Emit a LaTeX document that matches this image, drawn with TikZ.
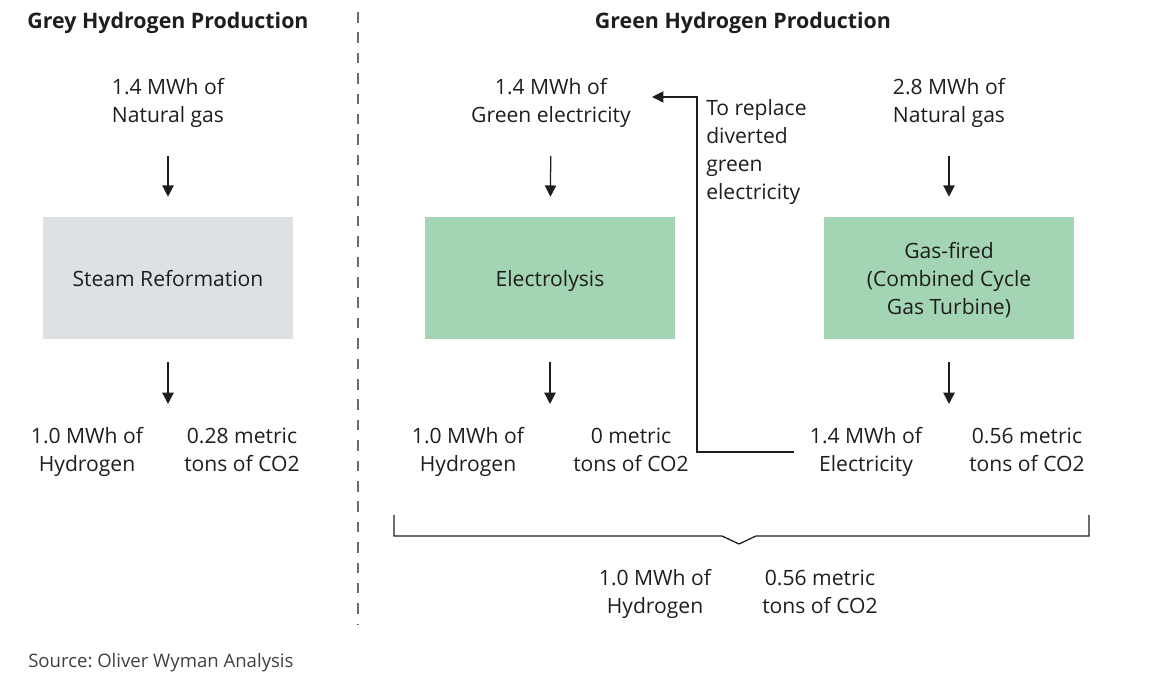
\documentclass[tikz,border=0pt]{standalone}
\usepackage{fontspec}
\setmainfont{Open Sans}
\usepackage{xcolor}
\usetikzlibrary{arrows.meta,positioning,calc}

\definecolor{inkgrey}{HTML}{1E1E1E}
\definecolor{greybox}{HTML}{DDE1E4}
\definecolor{greenbox}{HTML}{A3D4B3}
\definecolor{divider}{HTML}{6A6A6A}

\begin{document}
\begin{tikzpicture}[
    x=0.025cm, y=-0.025cm,
    every node/.style={text=inkgrey, font=\fontsize{15pt}{19.9pt}\selectfont, inner sep=0pt, align=center, text depth=5pt},
    title/.style={font=\fontsize{15.2pt}{19.9pt}\selectfont\bfseries},
    box/.style={rectangle, minimum width=6.25cm, minimum height=3.05cm, text depth=0pt},
    flow/.style={draw=inkgrey, line width=0.9pt, -{Triangle[length=8pt,width=8pt]}},
    intoBox/.style={flow, shorten <=18.5pt, shorten >=14.2pt},
    outOfBox/.style={flow, shorten <=16.4pt}
]
    \useasboundingbox (0,0) rectangle (1152,688);

    \node[title] (greytitle) at (168,24) {Grey Hydrogen Production};
    \node[title] (greentitle) at (743,24) {Green Hydrogen Production};
    \draw[divider, line width=0.8pt, dash pattern=on 7.5pt off 7pt] (358,12) -- (358,625);

    % grey route
    \node (greyin) at (168,104) {1.4 MWh of\\Natural gas};
    \node[box, fill=greybox] (steam) at (168,278) {Steam Reformation};
    \node (greyh2) at (87,453) {1.0 MWh of\\Hydrogen};
    \node (greyco2) at (242,453) {0.28 metric\\tons of CO2};
    \coordinate (steamout) at (168,404);
    \draw[intoBox] (greyin) -- (steam);
    \draw[outOfBox] (steam) -- (steamout);

    % green route
    \node (greenin) at (551,104) {1.4 MWh of\\Green electricity};
    \node[box, fill=greenbox] (lysis) at (550,278) {Electrolysis};
    \node (greenh2) at (468,453) {1.0 MWh of\\Hydrogen};
    \node (greenco2) at (631,453) {0 metric\\tons of CO2};
    \coordinate (lysisout) at (550,404);
    \draw[intoBox] (greenin) -- (lysis);
    \draw[outOfBox] (lysis) -- (lysisout);

    \node (gasin) at (949,104) {2.8 MWh of\\Natural gas};
    \node[box, fill=greenbox] (ccgt) at (949,278) {Gas-fired\\(Combined Cycle\\Gas Turbine)};
    \node (gaselec) at (866,453) {1.4 MWh of\\Electricity};
    \node (gasco2) at (1027,453) {0.56 metric\\tons of CO2};
    \coordinate (ccgtout) at (949,404);
    \draw[intoBox] (gasin) -- (ccgt);
    \draw[outOfBox] (ccgt) -- (ccgtout);

    \node[anchor=north west, align=left] (replace) at (706,99) {To replace\\diverted\\green\\electricity};
    \coordinate (detour) at (697,452);
    \draw[flow, shorten <=11.5pt, shorten >=15pt] (gaselec.west |- detour) -| (detour) |- ([yshift=5pt]greenin.east);

    % combined result
    \coordinate (braceL) at (394,515);
    \coordinate (braceR) at (1089,515);
    \draw[inkgrey, line width=0.9pt] (braceL) -- (394,536) -- (722,536) -- (739,544) -- (756,536) -- (1089,536) -- (braceR);
    \node (totalh2) at (655,595) {1.0 MWh of\\Hydrogen};
    \node (totalco2) at (820,595) {0.56 metric\\tons of CO2};

    \node[anchor=west, font=\fontsize{13.2pt}{15pt}\selectfont, text=inkgrey!85] (source) at (28,664) {Source:\ Oliver Wyman Analysis};
\end{tikzpicture}
\end{document}
